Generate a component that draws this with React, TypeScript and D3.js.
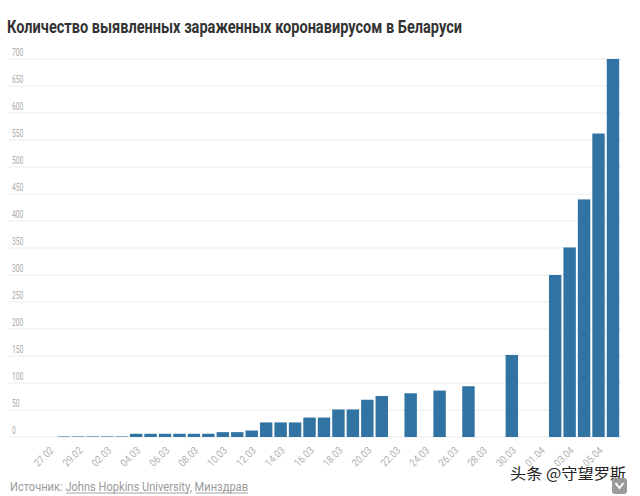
import React from "react";
import * as d3 from "d3";

const dates: string[] = [
  "27.02", "28.02", "29.02", "01.03", "02.03", "03.03", "04.03", "05.03", "06.03", "07.03",
  "08.03", "09.03", "10.03", "11.03", "12.03", "13.03", "14.03", "15.03", "16.03", "17.03",
  "18.03", "19.03", "20.03", "21.03", "22.03", "23.03", "24.03", "25.03", "26.03", "27.03",
  "28.03", "29.03", "30.03", "31.03", "01.04", "02.04", "03.04", "04.04", "05.04", "06.04",
];
const cases: number[] = [
  0, 1, 1, 1, 1, 1, 6, 6, 6, 6,
  6, 6, 9, 9, 12, 27, 27, 27, 36, 36,
  51, 51, 69, 76, 0, 81, 0, 86, 0, 94,
  0, 0, 152, 0, 0, 300, 351, 440, 562, 700,
];
const yTicks: number[] = [0, 50, 100, 150, 200, 250, 300, 350, 400, 450, 500, 550, 600, 650, 700];
const xLabels: string[] = dates.filter((_, i) => i % 2 === 0);

const title = "Количество выявленных зараженных коронавирусом в Беларуси";
const source = "Источник: Johns Hopkins University, Минздрав";

export default function App() {
  const W = 640;
  const H = 496;
  const x = d3.scaleBand<string>().domain(dates).range([42.2, 620.2]).paddingInner(0.14).paddingOuter(0.07);
  const y = d3.scaleLinear().domain([0, 700]).range([437, 59]);
  const font = "Roboto, 'Noto Sans', sans-serif";
  const barColor = "#3174a3";

  return (
    <svg width={W} height={H} style={{ position: "absolute", left: 0, top: 0, background: "#fff" }}>
      <rect x={0} y={0} width={W} height={H} fill="#fff" />
      <text x={7} y={33} fontFamily={font} fontWeight={700} fontSize={19} fill="#333"
        textLength={455} lengthAdjust="spacingAndGlyphs">{title}</text>

      {yTicks.map((t) => (
        <g key={t}>
          <line x1={8} x2={622} y1={y(t)} y2={y(t)} stroke="#ececec" strokeWidth={1.2} />
          <text x={12} y={y(t) - 3} fontFamily={font} fontSize={11} fill="#aaa"
            textLength={String(t).length * 3.8} lengthAdjust="spacingAndGlyphs">{t}</text>
        </g>
      ))}

      {dates.map((d, i) => (
        cases[i] > 0 ? (
          <rect key={d} x={x(d)} width={x.bandwidth()} y={y(cases[i])}
            height={Math.max(0, y(0) - y(cases[i]))} fill={barColor} />
        ) : null
      ))}

      {xLabels.map((d) => {
        const cx = (x(d) as number) + x.bandwidth() / 2 + 5;
        const cy = 451;
        return (
          <text key={d} x={cx} y={cy} transform={`rotate(-45 ${cx} ${cy})`}
            textAnchor="end" fontFamily={font} fontSize={10.5} fill="#b0b0b0"
            textLength={23} lengthAdjust="spacingAndGlyphs">{d}</text>
        );
      })}

      <text x={10} y={491} fontFamily={font} fontSize={12.5} fill="#9a9a9a"
        textLength={238} lengthAdjust="spacingAndGlyphs">{source}</text>
      <line x1={66} x2={189} y1={493} y2={493} stroke="#9a9a9a" strokeWidth={0.9} />
      <line x1={196} x2={248} y1={493} y2={493} stroke="#9a9a9a" strokeWidth={0.9} />

      <text x={510} y={479} fontFamily="'Noto Sans CJK SC', sans-serif" fontSize={15} fill="#222"
        stroke="#fff" strokeWidth={2.5} paintOrder="stroke" textLength={116} lengthAdjust="spacingAndGlyphs">头条 @守望罗斯</text>
      <rect x={612} y={478} width={15} height={16} rx={3} fill="#9a9a9a" />
      <path d="M615.5 483 L619.5 488 L623.5 483" stroke="#fff" strokeWidth={2} fill="none" />
    </svg>
  );
}
